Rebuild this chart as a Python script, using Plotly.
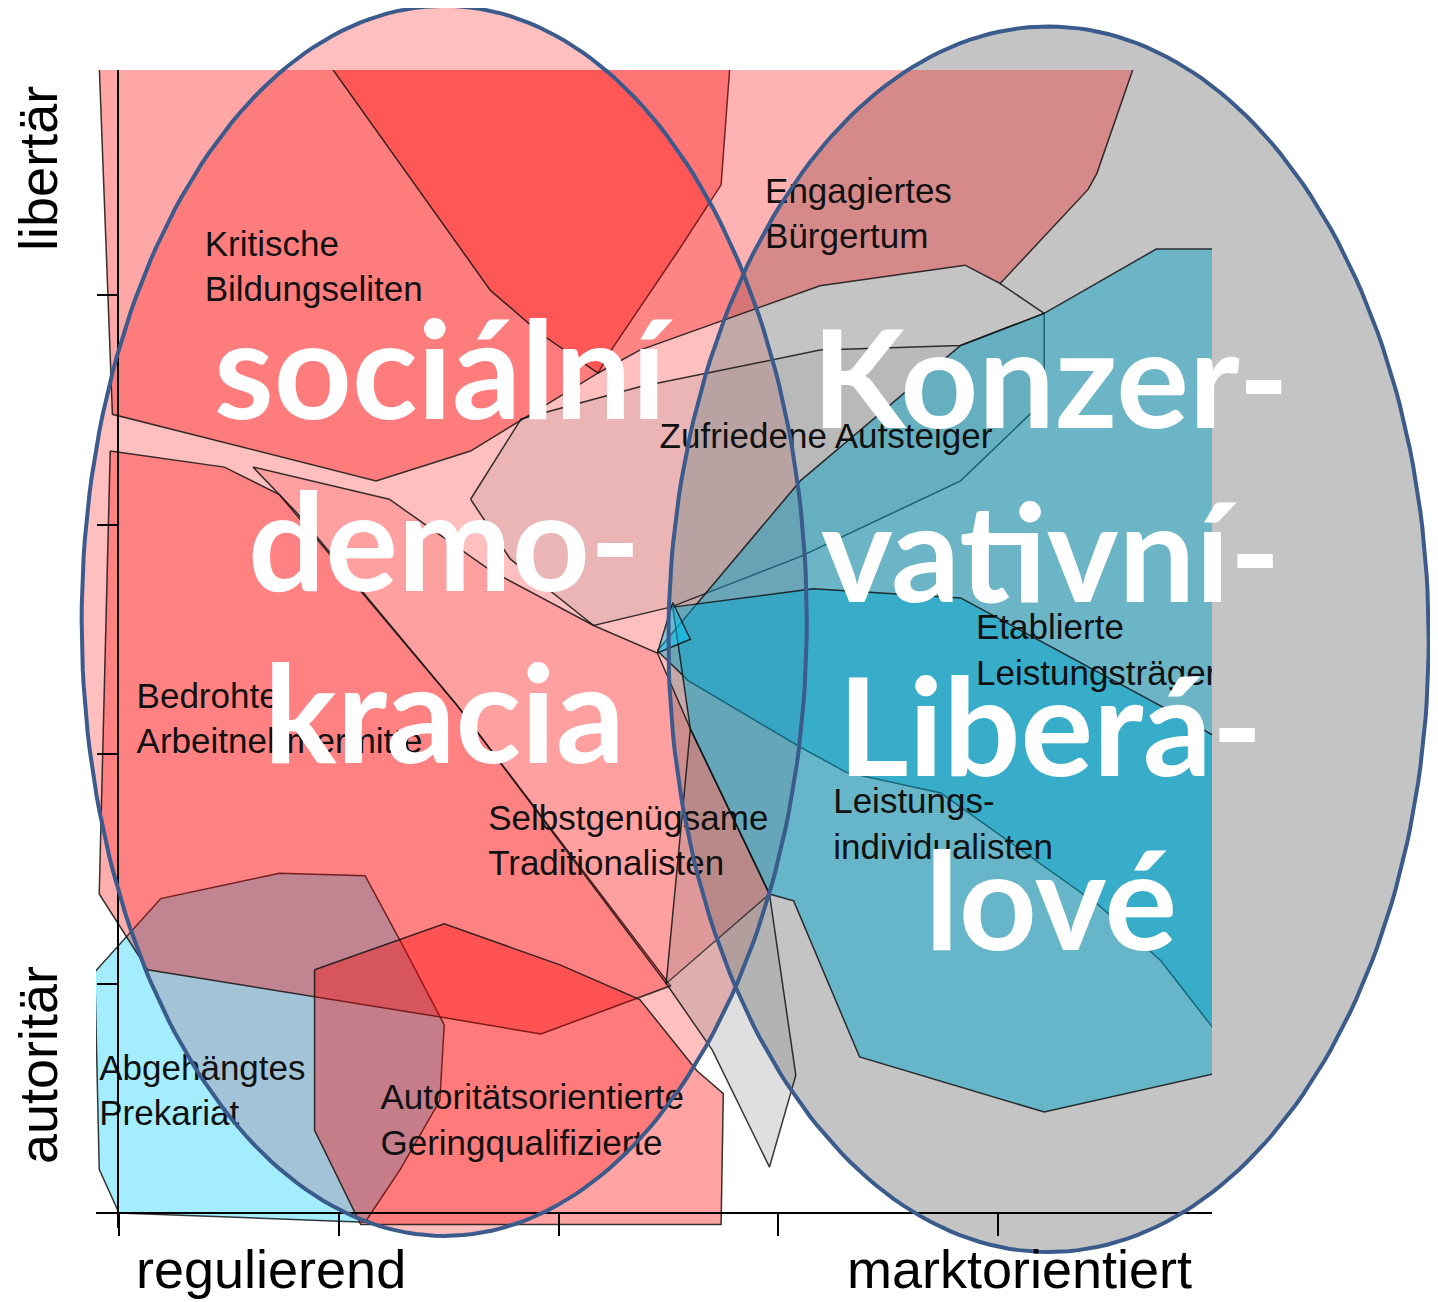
import numpy as np
import plotly.graph_objects as go

# ---------------- data (axis units: x 0..4 regulierend -> marktorientiert, y 0..4 autoritär -> libertär)
KB_x = [-0.09, 2.78, 2.74, 2.55, 2.24, 2.18, 1.60, 1.17, -0.03]
KB_y = [5.00, 5.00, 4.48, 4.20, 3.76, 3.66, 3.32, 3.19, 3.48]

EB_x = [0.96, 4.62, 4.45, 4.41, 4.01, 3.85, 3.19, 2.37, 2.18, 1.92, 1.69]
EB_y = [5.00, 5.00, 4.53, 4.46, 4.05, 4.13, 4.04, 3.76, 3.66, 3.83, 4.02]

BA_x = [-0.04, 0.48, 0.73, 1.54, 2.51, 1.92, 1.49, 0.13, -0.09]
BA_y = [3.32, 3.25, 3.13, 2.21, 0.99, 0.78, 0.85, 1.06, 1.39]

ST_x = [0.61, 1.23, 1.69, 2.16, 2.45, 2.60, 2.96, 2.49, 1.54, 0.81]
ST_y = [3.25, 3.11, 2.80, 2.56, 2.44, 2.11, 1.39, 1.00, 2.21, 3.05]

ZA_x = [1.60, 1.83, 2.37, 3.19, 3.83, 4.21, 4.21, 3.83, 3.10, 2.51, 2.16, 1.78]
ZA_y = [3.11, 3.46, 3.60, 3.76, 3.78, 3.92, 3.54, 3.19, 2.86, 2.64, 2.56, 2.85]

AP_x = [-0.11, 0.19, 0.73, 1.12, 1.30, 1.48, 1.46, 1.28, 1.12, 0.00, -0.09]
AP_y = [1.05, 1.37, 1.48, 1.47, 1.15, 0.82, 0.49, 0.19, -0.04, 0.00, 0.19]

AG_x = [0.89, 1.48, 2.01, 2.37, 2.63, 2.75, 2.74, 1.10, 0.89]
AG_y = [1.06, 1.26, 1.08, 0.93, 0.62, 0.52, -0.05, -0.05, 0.36]

GS_x = [2.60, 2.96, 3.08, 2.96, 2.70, 2.49]
GS_y = [2.11, 1.39, 0.60, 0.20, 0.71, 1.00]

EL_x = [2.45, 3.10, 3.83, 4.21, 4.72, 5.00, 5.00, 4.74, 4.46, 3.74, 3.31, 3.10, 2.59]
EL_y = [2.45, 3.19, 3.78, 3.92, 4.20, 4.20, 0.78, 1.10, 1.34, 1.83, 1.92, 2.03, 2.32]

LI_x = [2.52, 3.16, 3.83, 4.74, 5.00, 5.00, 4.21, 3.83, 3.37, 3.07, 2.96, 2.60]
LI_y = [2.64, 2.72, 2.68, 2.21, 2.07, 0.61, 0.44, 0.55, 0.68, 1.36, 1.39, 2.11]

TRI_x = [2.45, 2.52, 2.60]
TRI_y = [2.44, 2.66, 2.50]

EDGE_x = [4.01, 4.21]   # short boundary between Engagiertes Bürgertum and Zufriedene Aufsteiger
EDGE_y = [4.05, 3.92]

labels = ["Kritische<br>Bildungseliten", "Engagiertes<br>Bürgertum", "Zufriedene Aufsteiger",
          "Etablierte<br>Leistungsträger", "Bedrohte<br>Arbeitnehmermitte",
          "Selbstgenügsame<br>Traditionalisten", "Leistungs-<br>individualisten",
          "Abgehängtes<br>Prekariat", "Autoritätsorientierte<br>Geringqualifizierte"]
label_x = [0.39, 2.94, 2.46, 3.90, 0.08, 1.68, 3.25, -0.09, 1.19]
label_y = [4.11, 4.34, 3.37, 2.44, 2.14, 1.61, 1.68, 0.52, 0.39]

tick_vals = [0, 1, 2, 3, 4]
x_titles = ["regulierend", "marktorientiert"]
x_title_pos = [0.69, 4.10]
y_titles = ["libertär", "autoritär"]
y_title_pos = [4.55, 0.645]

left_words = ["sociální", "demo-", "kracia"]
left_words_y = [3.69, 2.94, 2.19]
right_words = ["Konzer-", "vativní-", "Liberá-", "lové"]
right_words_y = [3.65, 2.89, 2.135, 1.375]
left_col_x, right_col_x = 1.48, 4.24

ell_left = dict(cx=1.48, cy=2.58, rx=1.65, ry=2.68)
ell_right = dict(cx=4.23, cy=2.50, rx=1.73, ry=2.67)

# ---------------- layout calibration (canvas placement; page body adds an 8 px margin)
W, H = 1430, 1294
X0, XU = 111, 219.75     # px of x=0, px per unit
Y0, YU = 1205, 229.5     # px of y=0, px per unit
PL, PR, PT, PB = 88, 1204, 62, 1220   # plot-area box in px
YAX_PX = 110

full_xr = [(0 - X0) / XU, (W - X0) / XU]
full_yr = [(Y0 - H) / YU, Y0 / YU]

RED = "255,0,0"
GRAY = "128,128,128"
TEAL = "0,165,205"
CYAN = "0,205,255"

fig = go.Figure()

def ellipse(e):
    t = np.linspace(0, 2 * np.pi, 241)
    return e["cx"] + e["rx"] * np.cos(t), e["cy"] + e["ry"] * np.sin(t)

# ellipse fills (bottom layer, full canvas axes)
for e, col in [(ell_left, "rgba(255,0,0,0.25)"), (ell_right, "rgba(150,150,150,0.56)")]:
    ex, ey = ellipse(e)
    fig.add_trace(go.Scatter(x=ex, y=ey, mode="lines", fill="toself", fillcolor=col,
                             line=dict(width=0), hoverinfo="skip", showlegend=False,
                             xaxis="x", yaxis="y"))

# polygons on the plot axes
polys = [
    (AP_x, AP_y, CYAN, 0.36),
    (BA_x, BA_y, RED, 0.32),
    (KB_x, KB_y, RED, 0.35),
    (EB_x, EB_y, RED, 0.30),
    (ST_x, ST_y, RED, 0.16),
    (ZA_x, ZA_y, GRAY, 0.15),
    (AG_x, AG_y, RED, 0.36),
    (GS_x, GS_y, GRAY, 0.25),
    (EL_x, EL_y, TEAL, 0.45),
    (LI_x, LI_y, TEAL, 0.48),
    (TRI_x, TRI_y, CYAN, 0.45),
]
for px, py, c, a in polys:
    fig.add_trace(go.Scatter(x=px + px[:1], y=py + py[:1], mode="lines", fill="toself",
                             fillcolor=f"rgba({c},{a})",
                             line=dict(color="rgba(20,20,20,0.85)", width=1.5),
                             hoverinfo="skip", showlegend=False, xaxis="x2", yaxis="y2"))
fig.add_trace(go.Scatter(x=EDGE_x, y=EDGE_y, mode="lines",
                         line=dict(color="rgba(20,20,20,0.85)", width=1.5),
                         hoverinfo="skip", showlegend=False, xaxis="x2", yaxis="y2"))

fig.add_trace(go.Scatter(x=label_x, y=label_y, text=labels, mode="text",
                         textposition="middle right", cliponaxis=True,
                         textfont=dict(family="Liberation Sans, Arial, sans-serif", size=35, color="#111"),
                         hoverinfo="skip", showlegend=False, xaxis="x2", yaxis="y2"))

# ellipse outlines (top layer)
for e in (ell_left, ell_right):
    ex, ey = ellipse(e)
    fig.add_trace(go.Scatter(x=ex, y=ey, mode="lines", line=dict(color="#3b5b8c", width=4),
                             hoverinfo="skip", showlegend=False, xaxis="x3", yaxis="y3"))

ann = []
for t, xp in zip(x_titles, x_title_pos):
    ann.append(dict(x=xp, y=-0.245, xref="x", yref="y", text=t, showarrow=False,
                    font=dict(family="Liberation Sans, Arial, sans-serif", size=54, color="black")))
for t, yp in zip(y_titles, y_title_pos):
    ann.append(dict(x=-0.368, y=yp, xref="x", yref="y", text=t, showarrow=False, textangle=-90,
                    font=dict(family="Liberation Sans, Arial, sans-serif", size=54, color="black")))
bigfont = dict(family="Lato, Open Sans, sans-serif", size=136, color="white", weight="bold")
for t, yp in zip(left_words, left_words_y):
    ann.append(dict(x=left_col_x, y=yp, xref="x", yref="y", text=t, showarrow=False, font=bigfont))
for t, yp in zip(right_words, right_words_y):
    ann.append(dict(x=right_col_x, y=yp, xref="x", yref="y", text=t, showarrow=False, font=bigfont))

hidden = dict(visible=False, showgrid=False, zeroline=False, fixedrange=True)
fig.update_layout(
    width=W, height=H, margin=dict(l=0, r=0, t=0, b=0, pad=0),
    paper_bgcolor="white", plot_bgcolor="rgba(0,0,0,0)", showlegend=False,
    annotations=ann,
    xaxis=dict(hidden, domain=[0, 1], range=full_xr, anchor="y"),
    yaxis=dict(hidden, domain=[0, 1], range=full_yr, anchor="x"),
    xaxis3=dict(hidden, domain=[0, 1], range=full_xr, anchor="y3"),
    yaxis3=dict(hidden, domain=[0, 1], range=full_yr, anchor="x3"),
    xaxis2=dict(domain=[PL / W, PR / W], range=[(PL - X0) / XU, (PR - X0) / XU],
                anchor="free", position=1 - Y0 / H, showgrid=False, zeroline=False,
                showline=True, linecolor="black", linewidth=2, ticks="outside",
                ticklen=22, tickwidth=2, tickcolor="black", tickvals=tick_vals,
                showticklabels=False, fixedrange=True),
    yaxis2=dict(domain=[1 - PB / H, 1 - PT / H], range=[(Y0 - PB) / YU, (Y0 - PT) / YU],
                anchor="free", position=YAX_PX / W, showgrid=False, zeroline=False,
                showline=True, linecolor="black", linewidth=2, ticks="outside",
                ticklen=20, tickwidth=2, tickcolor="black", tickvals=tick_vals,
                showticklabels=False, fixedrange=True),
)

fig.write_html("out.html")
